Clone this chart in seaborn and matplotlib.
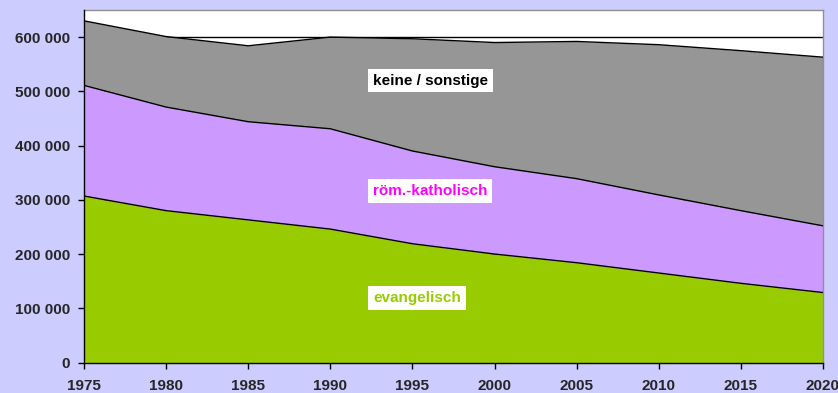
import matplotlib
matplotlib.use("Agg")
import matplotlib.pyplot as plt
import matplotlib.ticker as mticker
import numpy as np
import pandas as pd
import seaborn as sns

# Population by religious affiliation (stacked)
years = [1975, 1980, 1985, 1990, 1995, 2000, 2005, 2010, 2015, 2020]
evangelisch = [307000, 280000, 263000, 246000, 219000, 200000, 184000, 165000, 146000, 129000]
katholisch = [204000, 191000, 181000, 185000, 171000, 161000, 155000, 144000, 134000, 123000]
keine_sonstige = [119000, 130000, 140000, 169000, 207000, 229000, 253000, 277000, 295000, 311000]

series_names = ["evangelisch", "röm.-katholisch", "keine / sonstige"]
fill_colors = ["#99cc00", "#cc99ff", "#969696"]
label_colors = ["#99cc00", "#ff00ff", "#000000"]
label_pos = [(1992.6, 119000), (1992.6, 316000), (1992.6, 520000)]

sns.set_style("white")
plt.rcParams["font.family"] = ["Liberation Sans", "DejaVu Sans"]

df = pd.DataFrame({"Jahr": years, "evangelisch": evangelisch,
                   "röm.-katholisch": katholisch, "keine / sonstige": keine_sonstige})
cum = df[series_names].cumsum(axis=1)

fig = plt.figure(figsize=(8.38, 3.93), dpi=100)
fig.patch.set_facecolor("#ccccff")
ax = fig.add_axes([84 / 838, 1 - 362.5 / 393, (823 - 84) / 838, (362.5 - 10) / 393])
ax.set_facecolor("white")

ax.stackplot(df["Jahr"], [df[c] for c in series_names], colors=fill_colors,
             linewidth=0, zorder=2)
for c in series_names:
    sns.lineplot(x=df["Jahr"], y=cum[c], ax=ax, color="black", linewidth=1.0,
                 zorder=3, legend=False)

for name, col, (lx, ly) in zip(series_names, label_colors, label_pos):
    ax.text(lx, ly, name, color=col, fontsize=11, fontweight="bold",
            ha="left", va="center", zorder=5,
            bbox=dict(facecolor="white", edgecolor="none", pad=3.5))

ax.set_xlim(1975, 2020)
ax.set_ylim(0, 650000)
ax.set_xticks(years)
ax.set_yticks(np.arange(0, 600001, 100000))
ax.yaxis.set_major_formatter(mticker.FuncFormatter(
    lambda v, p: f"{int(v):,}".replace(",", " ")))
ax.yaxis.grid(True, color="black", linewidth=1.0, zorder=0.5)
ax.set_axisbelow(True)
ax.set_xlabel("")
ax.set_ylabel("")

for side in ["left", "bottom"]:
    ax.spines[side].set_color("black")
    ax.spines[side].set_linewidth(1.0)
    ax.spines[side].set_zorder(6)
for side in ["top", "right"]:
    ax.spines[side].set_color("#909090")
    ax.spines[side].set_linewidth(1.0)

ax.tick_params(axis="y", direction="out", length=4, width=1, color="black",
               pad=6, labelsize=11, left=True)
ax.tick_params(axis="x", direction="out", length=4, width=1, color="black",
               pad=8, labelsize=11, bottom=True)
for lab in ax.get_xticklabels() + ax.get_yticklabels():
    lab.set_fontweight("bold")

fig.savefig("out.png", dpi=100, facecolor=fig.get_facecolor())
